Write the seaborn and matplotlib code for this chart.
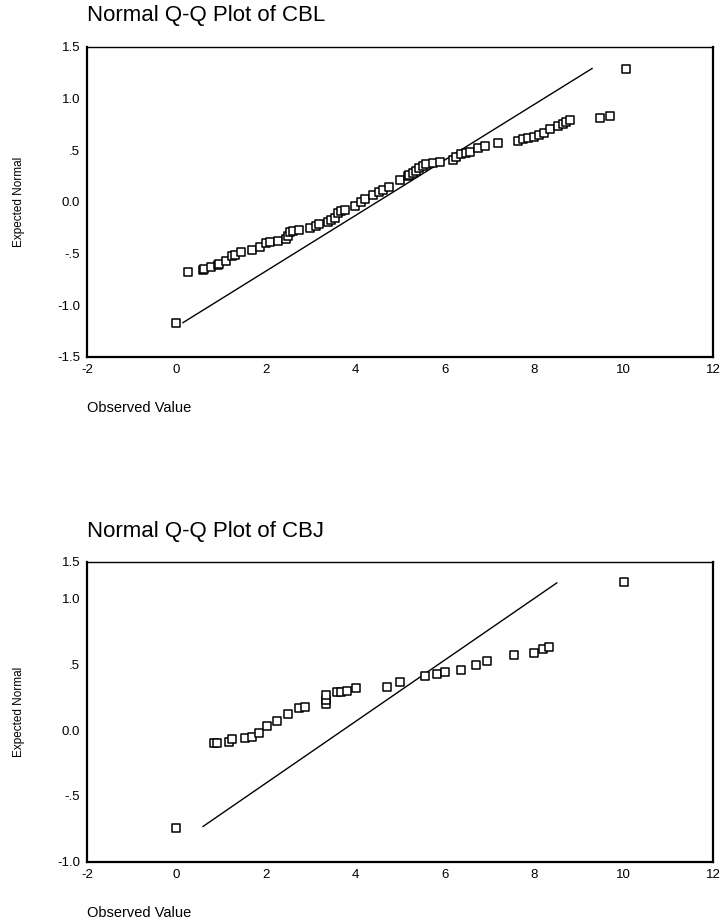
import numpy as np
import pandas as pd
import seaborn as sns
import matplotlib.pyplot as plt

# CBL: observed value vs expected normal
cbl_obs = [0.00, 0.26, 0.60, 0.62, 0.78, 0.93, 0.96, 1.11, 1.25, 1.30, 1.44, 1.69,
           1.86, 2.00, 2.10, 2.28, 2.45, 2.49, 2.55, 2.60, 2.75, 2.99, 3.12, 3.18,
           3.39, 3.46, 3.54, 3.62, 3.69, 3.77, 4.00, 4.13, 4.21, 4.39, 4.54, 4.61,
           4.76, 5.01, 5.17, 5.20, 5.28, 5.36, 5.43, 5.51, 5.59, 5.74, 5.89, 6.19,
           6.26, 6.37, 6.47, 6.57, 6.75, 6.90, 7.19, 7.65, 7.76, 7.87, 7.99, 8.10,
           8.21, 8.36, 8.54, 8.65, 8.72, 8.81, 9.48, 9.69, 10.05]
cbl_exp = [-1.17, -0.68, -0.66, -0.65, -0.63, -0.61, -0.60, -0.57, -0.53, -0.52, -0.49, -0.47,
           -0.44, -0.40, -0.39, -0.38, -0.36, -0.33, -0.29, -0.28, -0.27, -0.25, -0.24, -0.22,
           -0.20, -0.18, -0.16, -0.11, -0.09, -0.08, -0.04, 0.00, 0.03, 0.06, 0.09, 0.11,
           0.14, 0.21, 0.25, 0.26, 0.28, 0.30, 0.33, 0.35, 0.36, 0.37, 0.38, 0.40,
           0.43, 0.46, 0.47, 0.48, 0.52, 0.54, 0.57, 0.59, 0.61, 0.62, 0.63, 0.65,
           0.66, 0.70, 0.73, 0.75, 0.77, 0.79, 0.81, 0.83, 1.28]
cbl_mean, cbl_sd = 4.50, 3.72
cbl_line_range = [0.14, 9.30]

# CBJ
cbj_obs = [0.00, 0.84, 0.91, 1.18, 1.25, 1.54, 1.69, 1.84, 2.03, 2.24, 2.49, 2.74,
           2.87, 3.34, 3.34, 3.34, 3.58, 3.69, 3.81, 4.01, 4.71, 5.00, 5.56, 5.83,
           6.00, 6.36, 6.70, 6.94, 7.54, 8.00, 8.19, 8.34, 10.02]
cbj_exp = [-0.74, -0.10, -0.10, -0.09, -0.07, -0.06, -0.05, -0.02, 0.03, 0.07, 0.12, 0.17,
           0.18, 0.20, 0.23, 0.27, 0.29, 0.29, 0.30, 0.32, 0.33, 0.37, 0.41, 0.43,
           0.44, 0.46, 0.50, 0.53, 0.57, 0.59, 0.62, 0.63, 1.13]
cbj_mean, cbj_sd = 3.72, 4.27
cbj_line_range = [0.59, 8.51]

x_ticks = [-2, 0, 2, 4, 6, 8, 10, 12]
cbl_yticks = [-1.5, -1.0, -0.5, 0.0, 0.5, 1.0, 1.5]
cbl_ylabels = ["-1.5", "-1.0", "-.5", "0.0", ".5", "1.0", "1.5"]
cbj_yticks = [-1.0, -0.5, 0.0, 0.5, 1.0, 1.28]
cbj_ylabels = ["-1.0", "-.5", "0.0", ".5", "1.0", "1.5"]

sns.set_style("white")
plt.rcParams["font.family"] = ["Liberation Sans", "DejaVu Sans"]
plt.rcParams["text.color"] = "black"
plt.rcParams["xtick.color"] = "black"
plt.rcParams["ytick.color"] = "black"

fig = plt.figure(figsize=(7.23, 9.24), dpi=100)
W, H = 723, 924


def panel(top_px, bot_px, obs, exp, mean, sd, lrange, yticks, ylabels, title, title_y, xlab_y):
    ax = fig.add_axes([87 / W, 1 - bot_px / H, 626 / W, (bot_px - top_px) / H])
    df = pd.DataFrame({"obs": obs, "exp": exp})
    lx = np.array(lrange)
    sns.lineplot(x=lx, y=(lx - mean) / sd, ax=ax, color="black", lw=1.0)
    sns.scatterplot(data=df, x="obs", y="exp", ax=ax, marker="s", s=32,
                    facecolor="white", edgecolor="black", linewidth=1.1, zorder=3)
    ax.set_xlim(-2, 12)
    ax.set_ylim(yticks[0], yticks[-1])
    ax.set_xticks(x_ticks)
    ax.set_xticklabels([str(t) for t in x_ticks])
    ax.set_yticks(yticks)
    ax.set_yticklabels(ylabels)
    ax.tick_params(direction="out", length=3, width=2, labelsize=9.5, color="black", pad=2)
    for s in ax.spines.values():
        s.set_color("black")
        s.set_linewidth(1.6)
    ax.spines["top"].set_linewidth(1.0)
    ax.set_xlabel("")
    ax.set_ylabel("")
    fig.text(87 / W, 1 - title_y / H, title, fontsize=16, ha="left", va="center")
    fig.text(87 / W, 1 - xlab_y / H, "Observed Value", fontsize=10.5, ha="left", va="center")
    fig.text(19 / W, 1 - (top_px + bot_px) / 2 / H, "Expected Normal", fontsize=8.5,
             rotation=90, ha="center", va="center", stretch="condensed")
    return ax


panel(46.7, 356.7, cbl_obs, cbl_exp, cbl_mean, cbl_sd, cbl_line_range,
      cbl_yticks, cbl_ylabels, "Normal Q-Q Plot of CBL", 16, 408)
panel(562, 861.7, cbj_obs, cbj_exp, cbj_mean, cbj_sd, cbj_line_range,
      cbj_yticks, cbj_ylabels, "Normal Q-Q Plot of CBJ", 531, 913)

fig.savefig("out.png", dpi=100)
